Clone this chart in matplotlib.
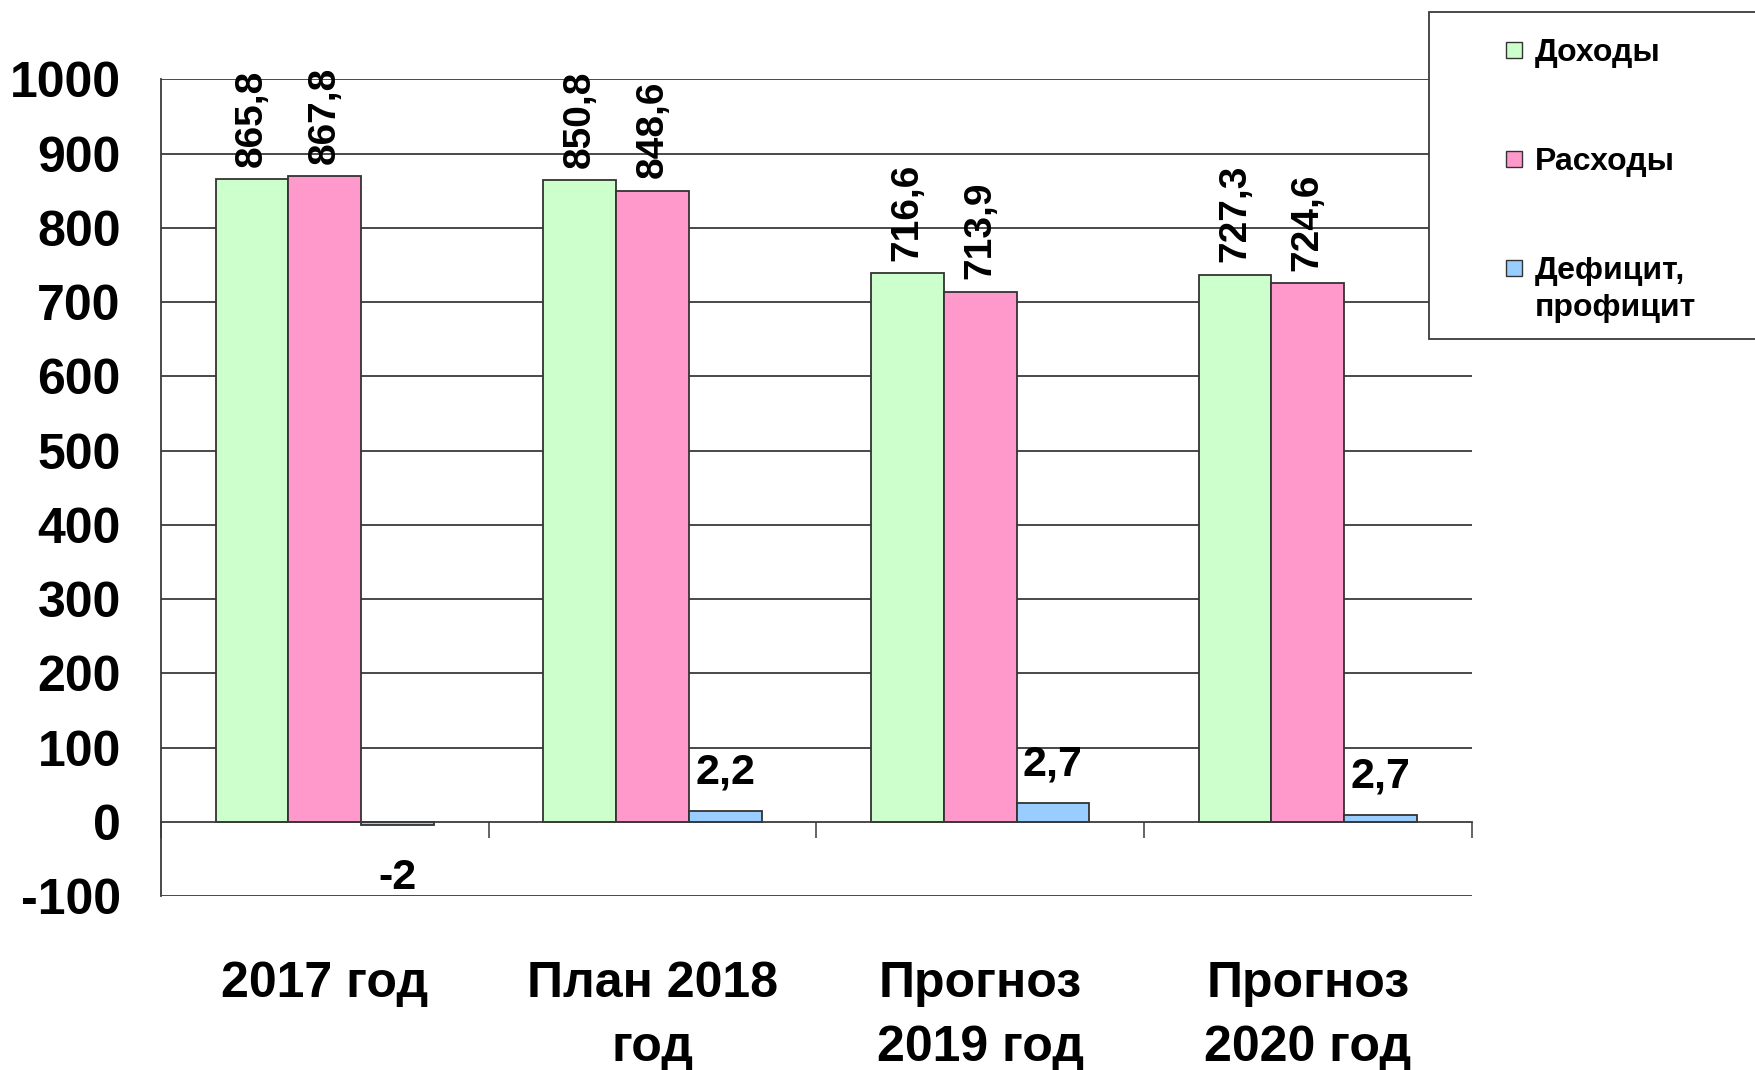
import matplotlib
matplotlib.use("Agg")
import matplotlib.pyplot as plt
from matplotlib.patches import Rectangle
import numpy as np

plt.rcParams['font.family'] = ['Liberation Sans', 'DejaVu Sans']

# ---- data ----
categories = ["2017 год", "План 2018\nгод", "Прогноз\n2019 год", "Прогноз\n2020 год"]
series_names = ["Доходы", "Расходы", "Дефицит,\nпрофицит"]
# bar heights as drawn in the picture
dohody = [865.2, 864.0, 739.0, 737.0]
rashody = [869.8, 850.0, 714.0, 725.6]
deficit = [-4.0, 14.4, 25.6, 8.8]
# data labels as printed
dohody_labels = ["865,8", "850,8", "716,6", "727,3"]
rashody_labels = ["867,8", "848,6", "713,9", "724,6"]
deficit_labels = ["-2", "2,2", "2,7", "2,7"]
yticks = list(range(-100, 1001, 100))

# ---- style ----
colors = ["#CCFFCC", "#FF99CC", "#99CCFF"]
edge = "#333333"
grid_c = "#3a3a3a"

W, H = 1756, 1070
fig = plt.figure(figsize=(W / 100, H / 100), dpi=100)
ax = fig.add_axes([161 / W, 1 - 896.3 / H, (1471.7 - 161) / W, (896.3 - 79.3) / H])

x = np.arange(len(categories)) + 0.5
bw = 0.222
series = [dohody, rashody, deficit]
containers = []
for i, (vals, c) in enumerate(zip(series, colors)):
    bc = ax.bar(x + (i - 1) * bw, vals, width=bw, color=c, edgecolor=edge,
                linewidth=1.3, zorder=2)
    containers.append(bc)

ax.set_xlim(0, 4)
ax.set_ylim(-100, 1000)

# gridlines
for yv in yticks:
    if yv != 0:
        ax.axhline(yv, color=grid_c, linewidth=1.3, zorder=0.5)

# spines
for s in ["top", "right"]:
    ax.spines[s].set_visible(False)
ax.spines["bottom"].set_position(("data", 0))
ax.spines["bottom"].set_color(grid_c)
ax.spines["bottom"].set_linewidth(1.3)
ax.spines["left"].set_color(grid_c)
ax.spines["left"].set_linewidth(1.3)

# y ticks
ax.set_yticks(yticks)
ax.set_yticklabels([str(v) for v in yticks], fontsize=36, fontweight="bold")
ax.tick_params(axis="y", length=0, pad=29)

# x ticks: major at category boundaries (no labels), minor at centers with labels
ax.set_xticks(np.arange(0, 5))
ax.set_xticklabels([])
ax.tick_params(axis="x", which="major", direction="out", length=11.5, width=1.1,
               color=grid_c)
ax.set_xticks(x, minor=True)
ax.set_xticklabels(categories, minor=True, fontsize=36, fontweight="bold",
                   linespacing=1.5)
ax.tick_params(axis="x", which="minor", direction="in", length=9.5, width=1.1,
               color=grid_c, pad=100)

# value labels on top bars (rotated)
for bc, labs in zip(containers[:2], [dohody_labels, rashody_labels]):
    for rect, lab in zip(bc, labs):
        ax.annotate(lab, (rect.get_x() + rect.get_width() / 2, rect.get_height()),
                    xytext=(0, 9), textcoords="offset points", rotation=90,
                    ha="center", va="bottom", fontsize=28, fontweight="bold")

# deficit labels
for rect, lab, val in zip(containers[2], deficit_labels, deficit):
    cx = rect.get_x() + rect.get_width() / 2
    if val >= 0:
        ax.annotate(lab, (cx, val), xytext=(0, 20), textcoords="offset points",
                    ha="center", va="baseline", fontsize=31, fontweight="bold")
    else:
        ax.annotate(lab, (cx, val), xytext=(0, -24), textcoords="offset points",
                    ha="center", va="top", fontsize=31, fontweight="bold")

# legend drawn manually in figure coordinates
fig.patches.append(Rectangle((1429 / W, 1 - 339 / H), (W - 1429 + 5) / W, (339 - 11.7) / H,
                             transform=fig.transFigure, facecolor="white",
                             edgecolor=grid_c, linewidth=1.3, zorder=5))
leg_y = [50, 159, 268]
for name, c, yy in zip(series_names, colors, leg_y):
    fig.patches.append(Rectangle((1506 / W, 1 - (yy + 8) / H), 16 / W, 16 / H,
                                 transform=fig.transFigure, facecolor=c,
                                 edgecolor=edge, linewidth=1.0, zorder=6))
    fig.text(1535 / W, 1 - (yy - 12) / H, name, fontsize=23, fontweight="bold",
             ha="left", va="top", linespacing=1.3, zorder=7)

fig.savefig("out.png", dpi=100)
